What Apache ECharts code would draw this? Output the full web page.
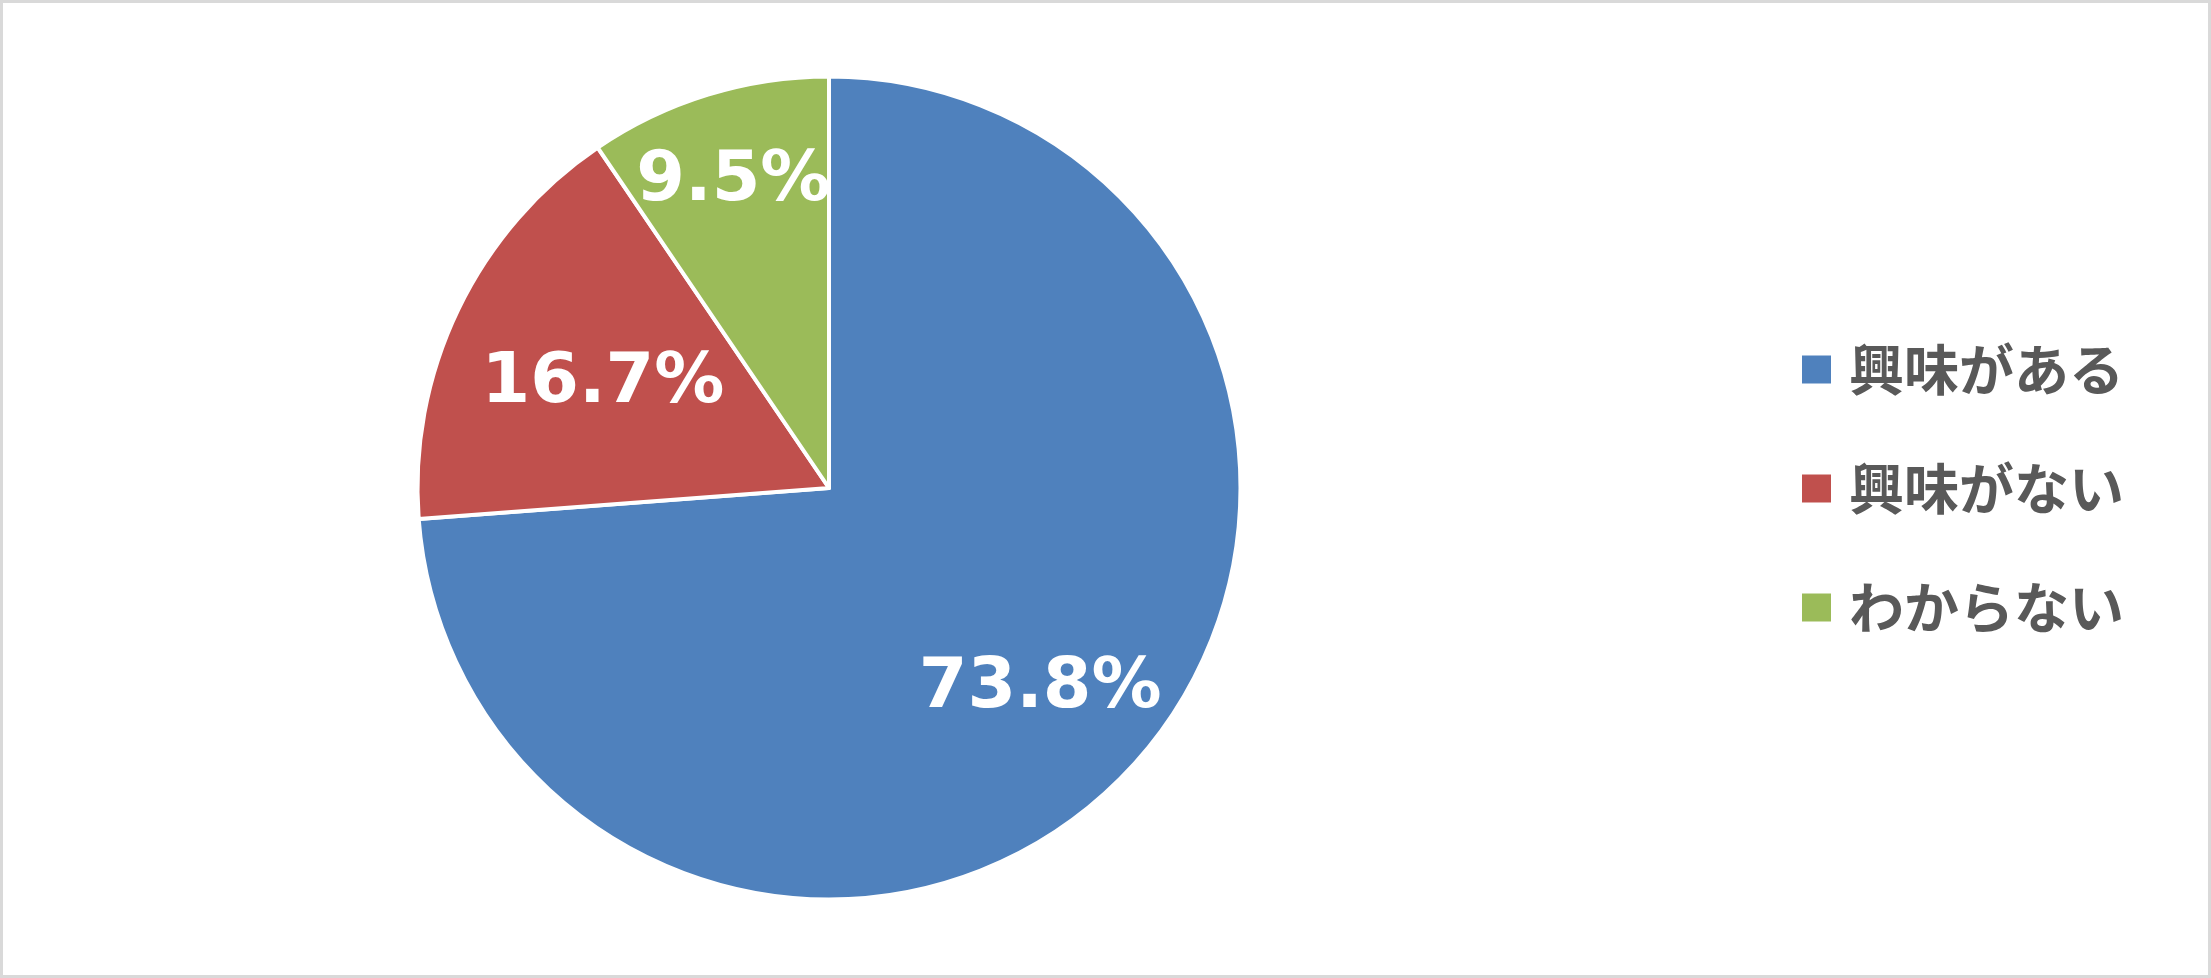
<!DOCTYPE html>
<html>
<head>
<meta charset="utf-8">
<script src="https://cdn.jsdelivr.net/npm/echarts@6/dist/echarts.min.js"></script>
<style>
  html, body { margin: 0; padding: 0; background: #fff; }
  #chart { position: absolute; left: 0; top: 0; width: 2211px; height: 978px; }
  #frame { position: absolute; left: 0; top: 0; width: 2211px; height: 978px; box-sizing: border-box; border: 3px solid #d9d9d9; pointer-events: none; }
</style>
</head>
<body>
<div id="chart"></div>
<div id="frame"></div>
<script>
const categories = ['興味がある', '興味がない', 'わからない'];
const values = [73.8, 16.7, 9.5];
const colors = ['#4f81bd', '#c0504d', '#9bbb59'];

// ラベルの位置（半径に対する割合）
const labelRadius = [0.70, 0.61, 0.79];

const center = [829, 488];
const radius = 411.5;

const chart = echarts.init(document.getElementById('chart'));

chart.setOption({
  animation: false,
  legend: {
    orient: 'vertical',
    left: 1800,
    top: 342,
    padding: 0,
    itemWidth: 31,
    itemHeight: 30,
    itemGap: 64,
    icon: 'rect',
    data: categories,
    textStyle: {
      fontFamily: 'Noto Sans CJK JP',
      fontWeight: 'bold',
      fontSize: 55,
      color: '#595959',
      padding: [0, 0, 0, 12],
    },
  },
  series: [
    {
      type: 'pie',
      center: center,
      radius: radius,
      startAngle: 90,
      clockwise: true,
      data: categories.map((name, i) => ({
        name,
        value: values[i],
        itemStyle: { color: colors[i] },
      })),
      itemStyle: {
        borderColor: '#fff',
        borderWidth: 4,
      },
      label: {
        show: true,
        position: 'inside',
        formatter: p => p.value.toFixed(1) + '%',
        fontFamily: 'DejaVu Sans',
        fontWeight: 'bold',
        fontSize: 70,
        color: '#fff',
      },
      labelLine: { show: false },
      emphasis: { disabled: true },
      labelLayout: function (params) {
        const r = params.labelRect;
        const lx = r.x + r.width / 2;
        const ly = r.y + r.height / 2;
        const vx = lx - center[0];
        const vy = ly - center[1];
        const len = Math.sqrt(vx * vx + vy * vy) || 1;
        const f = labelRadius[params.dataIndex] * radius;
        return {
          dx: vx / len * f - vx,
          dy: vy / len * f - vy + 5,
        };
      },
    },
  ],
});
</script>
</body>
</html>
